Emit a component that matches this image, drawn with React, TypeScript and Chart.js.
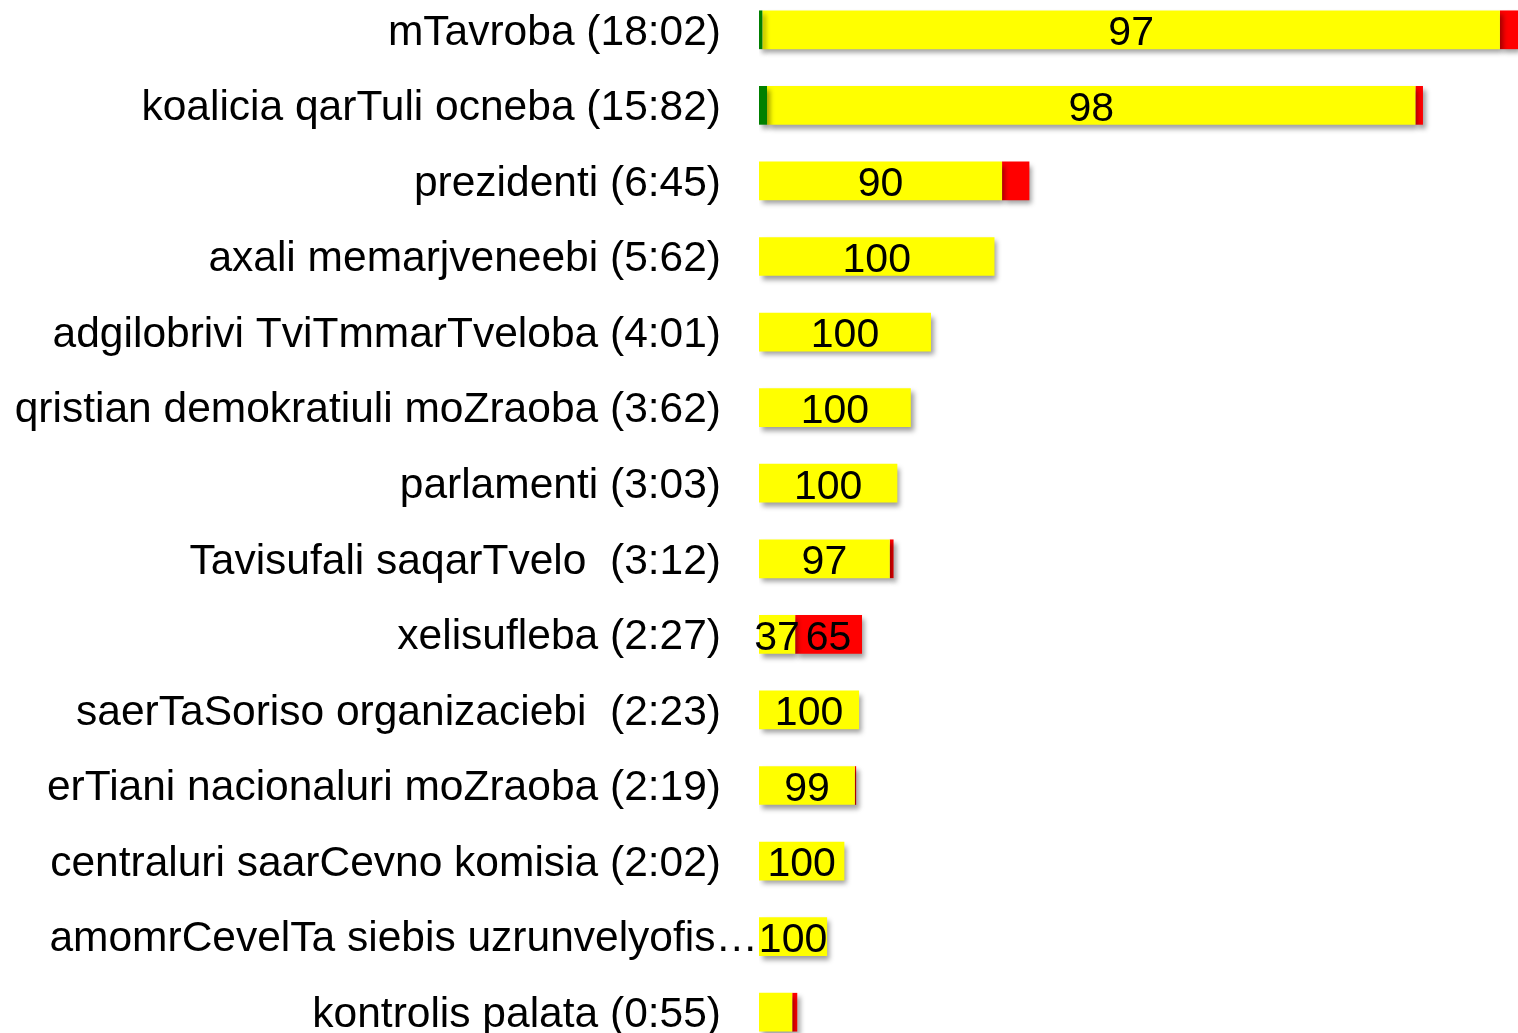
import React, { useEffect, useRef } from "react";
import { Chart, registerables } from "chart.js";

Chart.register(...registerables);

const categories = [
  "mTavroba (18:02)",
  "koalicia qarTuli ocneba (15:82)",
  "prezidenti (6:45)",
  "axali memarjveneebi (5:62)",
  "adgilobrivi TviTmmarTveloba (4:01)",
  "qristian demokratiuli moZraoba (3:62)",
  "parlamenti (3:03)",
  "Tavisufali saqarTvelo  (3:12)",
  "xelisufleba (2:27)",
  "saerTaSoriso organizaciebi  (2:23)",
  "erTiani nacionaluri moZraoba (2:19)",
  "centraluri saarCevno komisia (2:02)",
  "amomrCevelTa siebis uzrunvelyofis…",
  "kontrolis palata (0:55)",
];

// segment lengths in minutes
const greenValues = [0.08, 0.19, 0, 0, 0, 0, 0, 0, 0, 0, 0, 0, 0, 0];
const yellowValues = [17.54, 15.42, 5.78, 5.6, 4.09, 3.61, 3.29, 3.11, 0.86, 2.38, 2.28, 2.03, 1.62, 0.79];
const redValues = [0.43, 0.18, 0.65, 0, 0, 0, 0, 0.09, 1.59, 0, 0.03, 0, 0, 0.12];

// percentage labels shown on segments
const greenLabels = ["", "", "", "", "", "", "", "", "", "", "", "", "", ""];
const yellowLabels = ["97", "98", "90", "100", "100", "100", "100", "97", "37", "100", "99", "100", "100", ""];
const redLabels = ["", "", "", "", "", "", "", "", "65", "", "", "", "", ""];

const segmentLabels = [greenLabels, yellowLabels, redLabels];
const truncatedIndex = 12;

export default function App() {
  const ref = useRef<HTMLCanvasElement>(null);
  useEffect(() => {
    const canvas = ref.current!;
    const plugin = {
      id: "custom",
      beforeDatasetsDraw(chart: any) {
        const ctx = chart.ctx;
        ctx.save();
        ctx.shadowColor = "rgba(0,0,0,0.38)";
        ctx.shadowBlur = 5;
        ctx.shadowOffsetX = 3;
        ctx.shadowOffsetY = 4;
      },
      afterDatasetsDraw(chart: any) {
        const ctx = chart.ctx;
        ctx.restore();
        ctx.save();
        ctx.fillStyle = "#000";
        ctx.font = '41px "Liberation Sans", Arial, sans-serif';
        ctx.textAlign = "center";
        ctx.textBaseline = "middle";
        chart.data.datasets.forEach((ds: any, di: number) => {
          const meta = chart.getDatasetMeta(di);
          meta.data.forEach((el: any, i: number) => {
            const t = segmentLabels[di][i];
            if (!t) return;
            ctx.fillText(t, (el.x + el.base) / 2, el.y + 4);
          });
        });
        // category labels
        const yScale = chart.scales.y;
        ctx.font = '42.5px "Liberation Sans", Arial, sans-serif';
        ctx.textAlign = "right";
        categories.forEach((c, i) => {
          const y = yScale.getPixelForTick(i);
          const x = i === truncatedIndex ? 758 : 721;
          ctx.fillText(c, x, y + 3);
        });
        ctx.restore();
      },
    };
    const chart = new Chart(canvas, {
      type: "bar",
      data: {
        labels: categories,
        datasets: [
          { data: greenValues, backgroundColor: "#008000", borderWidth: 0 },
          { data: yellowValues, backgroundColor: "#FFFF00", borderWidth: 0 },
          { data: redValues, backgroundColor: "#FF0000", borderWidth: 0 },
        ],
      },
      options: {
        indexAxis: "y",
        animation: false,
        responsive: false,
        maintainAspectRatio: false,
        devicePixelRatio: 1,
        layout: { padding: { left: 759, right: 0, top: 0, bottom: 0 } },
        datasets: { bar: { categoryPercentage: 1, barPercentage: 0.512 } },
        plugins: { legend: { display: false }, tooltip: { enabled: false } },
        scales: {
          x: { stacked: true, min: 0, max: 18.05, display: false },
          y: { stacked: true, display: false },
        },
      },
      plugins: [plugin],
    });
    return () => chart.destroy();
  }, []);
  return (
    <div style={{ position: "fixed", left: 0, top: -8, width: 1518, height: 1058, background: "#fff" }}>
      <canvas ref={ref} width={1518} height={1058} style={{ width: 1518, height: 1058, display: "block" }} />
    </div>
  );
}
